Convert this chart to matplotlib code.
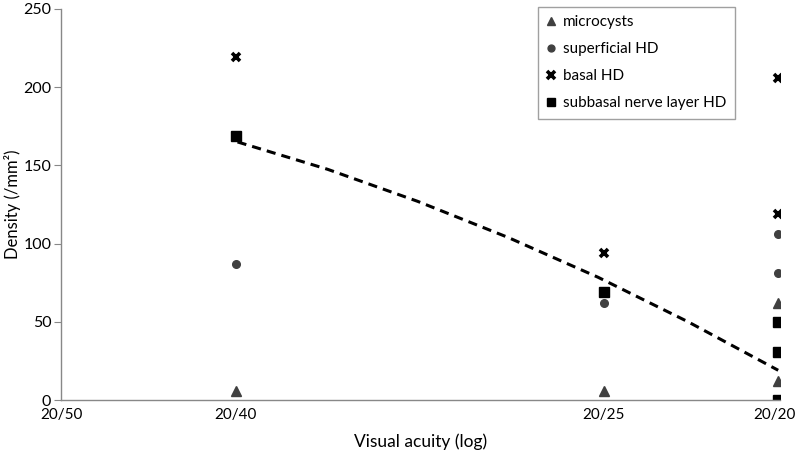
import matplotlib.pyplot as plt
import matplotlib.transforms as mtransforms
import numpy as np

plt.rcParams['font.family'] = ['Lato', 'DejaVu Sans']

# visual acuity (decimal) -> plotted on log scale
acuity_ticks = [0.4, 0.5, 0.8, 1.0]
acuity_labels = ['20/50', '20/40', '20/25', '20/20']

microcysts_x = [0.5, 0.8, 1.0, 1.0]
microcysts_y = [6, 6, 62, 12]

superficial_x = [0.5, 0.8, 1.0, 1.0]
superficial_y = [87, 62, 106, 81]

basal_x = [0.5, 0.8, 1.0, 1.0]
basal_y = [219, 94, 206, 119]

subbasal_x = [0.5, 0.8, 1.0, 1.0, 1.0]
subbasal_y = [169, 69, 50, 31, 0]

# trend line (log10 acuity, density)
trend_logx = [-0.30, -0.25, -0.20, -0.15, -0.10, -0.05, 0.0]
trend_y = [165, 147.5, 127, 104, 78.5, 50, 19]

fig = plt.figure(figsize=(7.97, 4.58), dpi=100)
ax = fig.add_axes([61 / 797, 1 - 400 / 458, (780 - 61) / 797, 391 / 458])

grey = '#404040'
ax.plot(np.log10(microcysts_x), microcysts_y, '^', color=grey, ms=7, ls='none', label='microcysts')
ax.plot(np.log10(superficial_x), superficial_y, 'o', color=grey, ms=5.5, ls='none', label='superficial HD')
ax.plot(np.log10(basal_x), basal_y, 'x', color='black', ms=6, mew=2.6, ls='none', label='basal HD')
ax.plot(np.log10(subbasal_x), subbasal_y, 's', color='black', ms=7, ls='none', label='subbasal nerve layer HD')
ax.plot(trend_logx, trend_y, color='black', lw=2.2, dashes=(3, 2))

ax.set_xlim(np.log10(0.4), 0.001)
ax.set_ylim(0, 250)
ax.set_xticks(np.log10(acuity_ticks))
ax.set_xticklabels(acuity_labels, fontsize=11)
ax.set_yticks([0, 50, 100, 150, 200, 250])
ax.tick_params(axis='y', labelsize=11.5, length=5, color='#888888', direction='out', pad=2)
ax.tick_params(axis='x', length=0, pad=6)

# keep the last tick label inside the figure
last = ax.get_xticklabels()[-1]
last.set_horizontalalignment('right')
last.set_transform(last.get_transform() + mtransforms.ScaledTranslation(0.17, 0, fig.dpi_scale_trans))

for s in ['top', 'right']:
    ax.spines[s].set_visible(False)
for s in ['left', 'bottom']:
    ax.spines[s].set_color('#888888')
    ax.spines[s].set_linewidth(1)

ax.set_xlabel('Visual acuity (log)', fontsize=12.5, labelpad=8)
ax.set_ylabel('Density (/mm²)', fontsize=12)
ax.yaxis.set_label_coords(-0.056, 0.5)

leg = ax.legend(loc='upper left', bbox_to_anchor=((530 - 61) / 719, 1.025), fontsize=11,
                frameon=True, fancybox=False, edgecolor='#888888', labelspacing=0.85,
                handlelength=0.6, handletextpad=0.5, borderpad=0.55, markerscale=0.9)
leg.get_frame().set_linewidth(1)

fig.savefig('out.png', dpi=100)
